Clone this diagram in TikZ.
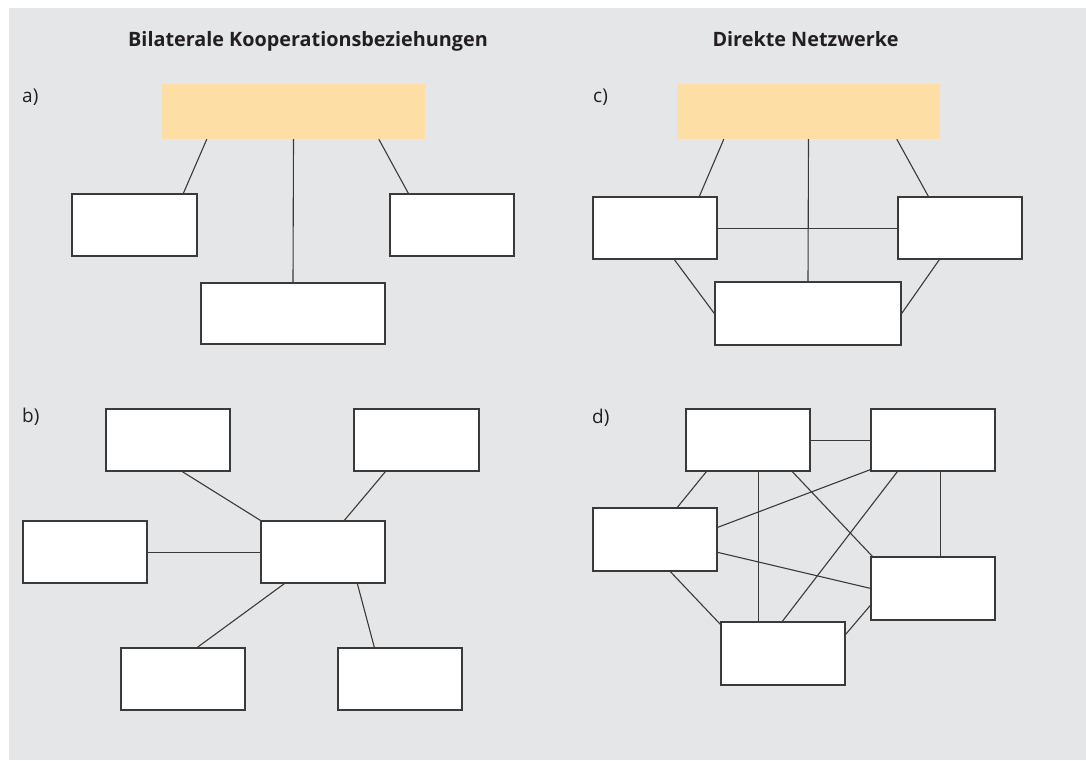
\documentclass[tikz,border=0pt]{standalone}
\usepackage{fontspec}
\setmainfont{Open Sans}
\definecolor{panel}{HTML}{E5E6E8}
\definecolor{head}{HTML}{FDDEA5}
\definecolor{ink}{HTML}{3A3A3A}
\definecolor{txt}{HTML}{231F20}
\tikzset{
  box/.style={draw=ink, line width=1.3pt, fill=white, inner sep=0pt,
              minimum width=124pt, minimum height=62pt},
  headbox/.style={fill=head, draw=none, inner sep=0pt,
              minimum width=263pt, minimum height=55pt},
  link/.style={draw=ink, line width=1.1pt},
  title/.style={font=\fontsize{19.8}{22}\selectfont\bfseries, text=txt, anchor=base, inner sep=0pt},
  tag/.style={font=\fontsize{19}{22}\selectfont, text=txt, anchor=base west, inner sep=0pt}
}
\begin{document}
\begin{tikzpicture}[x=1pt,y=-1pt]
  \useasboundingbox (0,0) rectangle (1086,760);
  \fill[panel] (9,8) rectangle (1086,760);

  % headings
  \node[title] (t1) at (308,47) {Bilaterale Kooperationsbeziehungen};
  \node[title] (t2) at (805.5,47) {Direkte Netzwerke};

  % panel labels
  \node[tag] (la) at (22,102) {a)};
  \node[tag] (lc) at (593,102) {c)};
  \node[tag] (lb) at (22,422) {b)};
  \node[tag] (ld) at (592,423) {d)};

  % a) star around the lead partner
  \node[headbox] (o1) at (293.5,111.5) {};
  \node[box, minimum width=125pt] (a1) at (134.5,225) {};
  \node[box] (a2) at (452,225) {};
  \node[box, minimum width=184pt, minimum height=61pt] (a3) at (293,313.5) {};
  \draw[link] ([xshift=45pt]o1.south west) -- ([xshift=112pt]a1.north west);
  \draw[link] (o1.south) -- (a3.north);
  \draw[link] ([xshift=217pt]o1.south west) -- ([xshift=19pt]a2.north west);

  % c) lead partner with partners linked among each other
  \node[headbox] (o2) at (808.5,111.5) {};
  \node[box] (c1) at (655,228) {};
  \node[box] (c2) at (960,228) {};
  \node[box, minimum width=186pt, minimum height=63pt] (c3) at (808,313.5) {};
  \draw[link] ([xshift=47pt]o2.south west) -- ([xshift=107pt]c1.north west);
  \draw[link] ([xshift=220pt]o2.south west) -- ([xshift=31pt]c2.north west);
  \draw[link] ([yshift=-0.5pt]c1.east) -- ([yshift=-0.5pt]c2.west);
  \draw[link] (o2.south) -- (c3.north);
  \draw[link] ([xshift=82pt]c1.south west) -- (c3.west);
  \draw[link] ([xshift=42pt]c2.south west) -- (c3.east);

  % b) central partner with bilateral ties
  \node[box] (b1) at (168,440) {};
  \node[box, minimum width=125pt] (b2) at (416.5,440) {};
  \node[box] (b3) at (85,552) {};
  \node[box] (b5) at (183,679) {};
  \node[box] (b6) at (400,679) {};
  \node[box] (b4) at (323,552) {};
  \draw[link] ([xshift=77pt]b1.south west) -- (b4.north west);
  \draw[link] ([xshift=32pt]b2.south west) -- ([xshift=84pt]b4.north west);
  \draw[link] ([yshift=-0.5pt]b3.east) -- ([yshift=-0.5pt]b4.west);
  \draw[link] ([xshift=24pt]b4.south west) -- ([xshift=77pt]b5.north west);
  \draw[link] ([xshift=97pt]b4.south west) -- ([xshift=37pt]b6.north west);

  % d) fully meshed network
  \node[box] (d1) at (748,440) {};
  \node[box] (d2) at (933,440) {};
  \node[box, minimum height=63pt] (d3) at (655,539.5) {};
  \node[box, minimum height=63pt] (d4) at (933,588.5) {};
  \node[box, minimum height=63pt] (d5) at (783,653.5) {};
  \draw[link] ([yshift=-0.5pt]d1.east) -- ([yshift=-0.5pt]d2.west);
  \draw[link] ([xshift=21pt]d1.south west) -- ([xshift=85pt]d3.north west);
  \draw[link] ([xshift=73.5pt]d1.south west) -- ([xshift=38.5pt]d5.north west);
  \draw[link] ([xshift=107pt]d1.south west) -- ([xshift=2pt]d4.north west);
  \draw[link] ([yshift=2pt]d2.south west) -- ([yshift=-20pt]d3.north east);
  \draw[link] ([xshift=27pt]d2.south west) -- ([xshift=62pt]d5.north west);
  \draw[link] ([xshift=70.5pt]d2.south west) -- ([xshift=70.5pt]d4.north west);
  \draw[link] ([yshift=-45pt]d3.north east) -- ([yshift=-32pt]d4.north west);
  \draw[link] ([xshift=78pt]d3.south west) -- ([yshift=-3pt]d5.north west);
  \draw[link] ([yshift=-13pt]d5.north east) -- ([yshift=-49pt]d4.north west);
\end{tikzpicture}
\end{document}
